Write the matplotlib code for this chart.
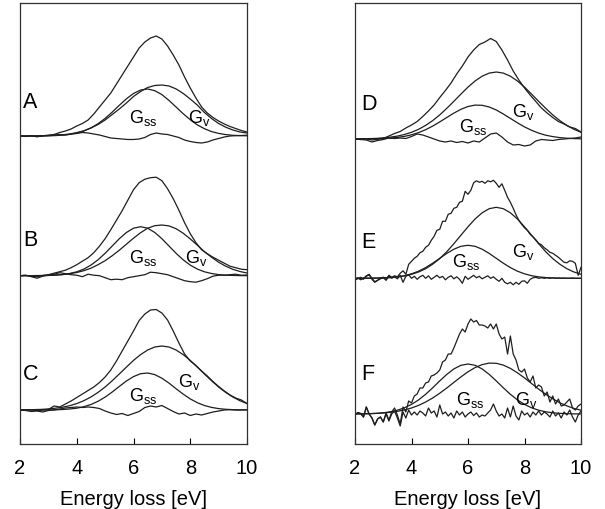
import numpy as np
import matplotlib
matplotlib.use("Agg")
import matplotlib.pyplot as plt

plt.rcParams["font.family"] = "Liberation Sans"
plt.rcParams["mathtext.fontset"] = "custom"
plt.rcParams["mathtext.rm"] = "Liberation Sans"

e_02 = np.linspace(2.0, 10.0, 41)   # smooth spectra A-D
e_01 = np.linspace(2.0, 10.0, 81)   # noisy spectra E-F
e_g = np.linspace(2.0, 10.0, 33)    # fitted gaussians

# ---- panel A ----
meas_a = [0.3, -0.3, 0.2, -0.5, 0.3, 0.8, 1.5, 3.5, 5, 7,
          10, 12.5, 16, 22, 29, 36, 43, 52, 61, 70,
          79, 88, 94, 98, 100, 97, 90, 81, 71, 59,
          48, 38, 29, 23, 18.5, 15, 12, 9.5, 7.5, 5.5,
          4]
gss_a = [0, 0, 0, 0.1, 0.2, 0.4, 0.9, 1.6, 3.0, 5.0,
         8.1, 12.3, 17.6, 23.9, 30.7, 37.2, 42.5, 46.0, 47.0, 45.3,
         41.4, 35.6, 29.0, 22.3, 16.3, 11.1, 7.3, 4.4, 2.6, 1.4,
         0.7, 0.4, 0.2]
gv_a = [0, 0, 0.1, 0.2, 0.4, 0.7, 1.2, 2.0, 3.4, 5.2,
        8.0, 11.5, 16.0, 21.5, 27.0, 33.0, 39.5, 44.5, 48.5, 50.5,
        51.0, 50.0, 47.1, 42.6, 37.0, 30.9, 23.5, 17.5, 12.5, 8.8,
        6.0, 4.0, 3.0]
res_a = [0, -0.5, 0.3, -0.8, 0.2, 0.5, 0.8, 1.5, 1.0, 2.0,
         2.5, 3.5, 3.0, 2.0, 1.0, -0.5, -2.0, -2.5, -3.0, -3.5,
         -3.5, -3.0, -1.5, 1.5, 3.0, 2.0, 1.5, 0, -1.5, -4.0,
         -5.5, -6.5, -7.0, -6.0, -4.0, -2.5, -1.0, 0, 0.3, 0.5,
         0.8]

# ---- panel B ----
meas_b = [0, 0.3, -0.5, -1.0, 0.2, 1.0, 2.5, 4, 5.5, 8,
          11, 14.5, 18, 23, 29.5, 37, 46, 55.5, 65, 75.5,
          86, 93, 96.5, 98, 98.5, 95, 87, 77, 65.5, 53,
          42, 33, 26, 22, 18.5, 15.5, 12.5, 9.5, 8, 6.5,
          6]
gss_b = [0, 0, 0, 0.1, 0.25, 0.5, 1.1, 2.2, 3.9, 6.6,
         10.6, 15.9, 22.4, 29.7, 37, 43.2, 47.5, 49, 47.5, 43.2,
         37, 29.7, 22.4, 15.9, 10.6, 6.6, 3.9, 2.2, 1.1, 0.5,
         0.25, 0.1, 0]
gv_b = [0, 0, 0.1, 0.2, 0.4, 0.7, 1.2, 2.0, 3.2, 5.0,
        7.5, 11, 15, 20, 25.5, 31.5, 37.5, 43, 47.5, 50,
        50.7, 49.8, 47, 42.5, 36.8, 30.5, 24, 18.5, 13.5, 9.5,
        6.4, 4.2, 2.7]
res_b = [0, 0.5, -1, -2.5, -0.5, 0.5, 1.5, 3, 2, 1,
         0.5, -1, 1.5, 0.5, 0, -2, -4, -3.5, -4, -2,
         -1, 0, 1, 3.5, 3, 2, 1, -1, -3, -5,
         -6, -6.5, -5, -3, -0.5, 0.5, 0.5, 1, 1.5, 0.5,
         0.7]

# ---- panel C ----
meas_c = [0, -0.3, 0.3, -0.7, 0, 0.5, 4, 3, 6, 9,
          12.5, 16, 19.5, 23, 27.5, 33, 40, 49, 59, 69,
          79, 89.5, 96, 100, 100.5, 97, 90, 79, 67, 56,
          49, 44.5, 39, 34, 28.5, 23.5, 19, 15, 12, 10,
          6.5]
gss_c = [0, 0, 0, 0, 0.1, 0.2, 0.5, 1.0, 1.8, 3.3,
         5.5, 8.7, 12.9, 18, 23.6, 29, 33.4, 36.3, 37, 35.4,
         31.8, 26.9, 21.3, 15.9, 11.1, 7.3, 4.5, 2.6, 1.4, 0.7,
         0.35, 0.15, 0.07]
gv_c = [0.1, 0.2, 0.4, 0.6, 1.1, 1.8, 2.8, 4.3, 6.4, 9.3,
        13, 17.6, 23, 29.3, 36, 42.9, 49.6, 55.4, 60, 63,
        64, 63, 60, 55.4, 49.6, 42.9, 36, 29.3, 23, 17.6,
        13, 9.3, 6.4]
res_c = [0, -0.5, -1.5, -1, -2, -0.5, 0, 1, 2, 2.5,
         3, 2.5, 3, 2.5, 1.5, -1, -3, -4.5, -3.5, -5.5,
         -3.5, -1.5, 2.5, 4, 3, 4.5, 1.5, -1.5, -4, -3,
         -5.5, -4, -5, -3.5, -2, -1, 0, 0.3, 0, 0,
         0.3]

# ---- panel D ----
meas_d = [0, -0.5, 0.3, -1, -0.3, 0.5, 3, 5.5, 7.5, 11,
          14, 17.5, 22.5, 28, 34, 41.5, 48.5, 56, 65, 73,
          82, 89, 94.5, 97, 100.5, 97.5, 89, 79, 68, 59,
          51, 44, 37.5, 31, 26, 21.5, 17.5, 15, 12, 10.5,
          7]
gss_d = [0, 0.1, 0.1, 0.3, 0.5, 0.9, 1.6, 2.6, 4.2, 6.4,
         9.3, 12.9, 17.1, 21.5, 25.9, 29.7, 32.5, 33.9, 33.7, 32,
         29, 25, 20.6, 16.2, 12.1, 8.7, 5.9, 3.8, 2.4, 1.4,
         0.8, 0.4, 0.2]
gv_d = [0.1, 0.2, 0.4, 0.6, 1.2, 1.9, 2.9, 4.5, 6.7, 9.7,
        13.6, 18.4, 24.1, 30.7, 37.7, 44.9, 51.9, 58, 62.8, 65.9,
        67, 65.9, 62.8, 58, 51.9, 44.9, 37.7, 30.7, 24.1, 18.4,
        13.6, 9.7, 6.7]
res_d = [0, -0.5, -1, -3, -1.5, -0.5, 1, 0.5, 1, 0.5,
         2.5, 5, 4, 2, 0, -2, -3, -2, -3.5, -2.5,
         -4, -2, -3, 1, 5, 6, 2, -3, -6, -5.5,
         -7, -6, -2, -0.5, -1, -1.5, -0.5, 0, 0.5, 1,
         2]

# ---- panel E ----
meas_e = [-1.5, -0.5, 1, -1, 2.5, 4, 0, -3.5, -2, -0.5,
          1, -1.5, 3, 1, 2.5, 1.5, 5, 7.5, 4, 14,
          17, 20, 22, 25.5, 27, 31, 33, 38, 42, 48,
          49, 57, 57, 64, 65, 70, 71, 76, 77, 87,
          84, 88, 95.5, 97.5, 96, 97, 95, 97.5, 96.5, 98,
          95, 91, 94.5, 88, 81, 76, 70, 63.5, 58, 54,
          50.5, 48, 44, 41.5, 38.5, 35, 33.5, 30.5, 28.5, 26,
          25, 23, 21, 18.5, 16, 15.5, 17.5, 17, 15, 3,
          11]
gss_e = [0, 0, 0.1, 0.2, 0.4, 0.75, 1.45, 2.6, 4.5, 7.1,
         10.7, 15.1, 20, 24.9, 29.1, 32, 33, 32, 29.1, 24.9,
         20, 15.1, 10.7, 7.1, 4.5, 2.6, 1.45, 0.75, 0.37, 0.17,
         0.07, 0.03, 0]
gv_e = [0, 0.05, 0.1, 0.2, 0.4, 0.8, 1.4, 2.4, 4.0, 6.3,
        9.6, 14.1, 19.7, 26.6, 34.6, 43.1, 51.5, 59.3, 65.5, 69.6,
        71, 69.6, 65.5, 59.3, 51.5, 43.1, 34.6, 26.6, 19.7, 14.1,
        9.6, 6.3, 4.0]
res_e = [-1, 0.5, -1.5, 0, 2, 3.5, -1, -4, -2, 0,
         1, -2, 2.5, 0, 1.5, -0.5, 3, -4, 2, 3.5,
         0, 2, -1, 1.5, 3, 0, 2.5, -1, 1, 3,
         0.5, 2, -1.5, 1, 2.5, -0.5, 1.5, -1, -5, 2,
         -1, 1, 3, 0.5, 2, -0.5, 1, 2.5, 0, 1.5,
         -1, -3, 0, -4, -5.5, -4, -6.5, -4, -6, -3,
         -2.5, -5, -1, 0.5, 1, 0, 0.5, 0, 0.5, 0,
         0.5, 0, 0.3, 0, 0.2, 0, 0, 0.3, 0, 0,
         0]

# ---- panel F ----
meas_f = [-1, 1.5, 0.5, -3, 7, 0, -4, -11, -5, -3,
          -8, 1, -6, 2, 6, -1, -10, 7, 2, 13,
          11, 18, 20, 26, 26, 31, 32, 38, 39, 41,
          44, 52, 54, 60, 60, 66, 73, 80, 85, 82,
          90, 95, 92, 93.5, 89, 89, 88, 86, 90, 85,
          90, 80, 75, 77, 60, 78, 60, 54, 44, 42,
          45, 36, 32, 38, 26, 29, 27, 18, 22, 12,
          18, 10, 15, 8, 9, 12, 15, 6, 4, 8,
          10]
gss_f = [0.07, 0.15, 0.3, 0.64, 1.2, 2.2, 3.8, 6.2, 9.6, 14.1,
         19.7, 26.2, 33.1, 39.6, 45.1, 48.7, 50, 48.7, 45.1, 39.6,
         33.1, 26.2, 19.7, 14.1, 9.6, 6.2, 3.8, 2.2, 1.2, 0.64,
         0.3, 0.15, 0.07]
gv_f = [0.1, 0.2, 0.36, 0.6, 1.0, 1.7, 2.7, 4.1, 6.0, 8.6,
        12, 16, 20.8, 26, 31.6, 37.1, 42.2, 46.4, 49.4, 50.9,
        50.7, 48.9, 45.6, 41.2, 36.1, 30.5, 24.9, 19.8, 15.2, 11.2,
        8.1, 5.6, 3.8]
res_f = [-1, 1.5, 0.5, -3, 7, 0, -4, -11, -5, -3,
         -8, 0, -7, 0, 3, -4, -12, 2, -4, 4,
         -1, 2, -1, 3, 1, -2, 6, 1, 3, -3,
         9, 0, 2, -2, 1, -4, 3, -1, 2, -3,
         0, 2, -1.5, 1, -3, -1, -2, 1, 4, 10,
         3, -2, 0, -4, 6, -3, 8, -2, -6, 3,
         -1, 1, -3, 2, -1, 3, -1, 2, 0, -3,
         3, -2, 1, -4, 2, -1, 4, -3, -8, -1,
         3]

# layout: (letter, measured, residual, grid, G_ss, G_v, baseline,
#          letter xy, G_ss label xy, G_v label xy)
left = [
    ("A", meas_a, res_a, e_02, gss_a, gv_a, 308, (2.1, 343), (5.85, 13.7), (7.93, 13.7)),
    ("B", meas_b, res_b, e_02, gss_b, gv_b, 168.3, (2.1, 205), (5.85, 13.4), (7.81, 13.4)),
    ("C", meas_c, res_c, e_02, gss_c, gv_c, 34, (2.1, 71), (5.85, 10), (7.58, 24.3)),
]
right = [
    ("D", meas_d, res_d, e_02, gss_d, gv_d, 305, (2.22, 340), (5.69, 8.3), (7.54, 23.3)),
    ("E", meas_e, res_e, e_01, gss_e, gv_e, 165.7, (2.22, 202), (5.45, 12.6), (7.54, 22.6)),
    ("F", meas_f, res_f, e_01, gss_f, gv_f, 30, (2.22, 70), (5.57, 10), (7.65, 10)),
]

fig = plt.figure(figsize=(6.05, 5.10), dpi=100)
ax1 = fig.add_axes([20 / 605, 65 / 510, 227 / 605, 441 / 510])
ax2 = fig.add_axes([355 / 605, 65 / 510, 226 / 605, 441 / 510])

lc = "#1e1e1e"
for ax, spectra in ((ax1, left), (ax2, right)):
    for (lab, meas, res, grid, gss, gv, base, lpos, spos, vpos) in spectra:
        ax.plot(grid, base + np.array(meas), color=lc, lw=0.9)
        ax.plot(grid, base + np.array(res), color=lc, lw=0.9)
        ax.plot(e_g, base + np.array(gss), color=lc, lw=0.9)
        ax.plot(e_g, base + np.array(gv), color=lc, lw=0.9)
        ax.text(lpos[0], lpos[1], lab, fontsize=15.5, va="center", ha="left")
        ax.text(spos[0], base + spos[1], r"G$_\mathregular{ss}$",
                fontsize=13, va="baseline", ha="left")
        ax.text(vpos[0], base + vpos[1], r"G$_\mathregular{v}$",
                fontsize=13, va="baseline", ha="left")

    ax.set_xlim(2, 10)
    ax.set_ylim(0, 441)
    ax.set_xticks([2, 4, 6, 8, 10])
    ax.set_yticks([])
    ax.tick_params(axis="x", direction="in", length=4, width=0.8,
                   labelsize=14.5, pad=10, top=False)
    for sp in ax.spines.values():
        sp.set_linewidth(0.9)
        sp.set_color("#303030")
    ax.set_xlabel("Energy loss [eV]", fontsize=14.5, labelpad=9)

fig.savefig("out.png", dpi=100)
